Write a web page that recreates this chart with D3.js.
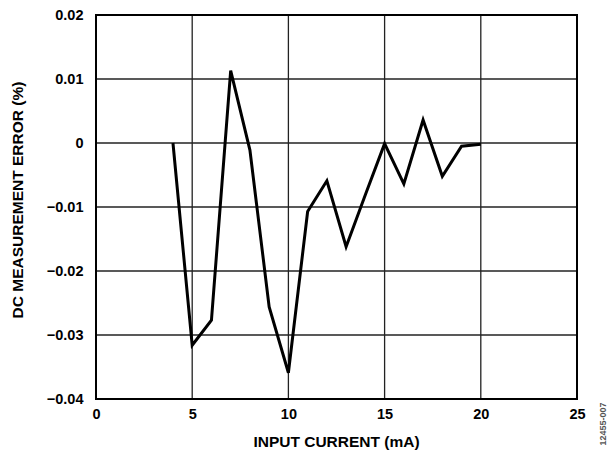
<!DOCTYPE html>
<html lang="en">
<head>
    <meta charset="UTF-8">
    <title>DC Measurement Error</title>
    <script src="https://d3js.org/d3.v7.min.js"></script>
    <style>
        body { margin: 0; background: #fff; }
        text { font-family: "Liberation Sans", Arial, sans-serif; font-weight: bold; }
    </style>
</head>
<body>
    <svg id="chart"></svg>

    <script>
        // input current (mA)
        const currents = [4, 5, 6, 7, 8, 9, 10, 11, 12, 13, 14, 15, 16, 17, 18, 19, 20];
        // DC measurement error (%)
        const errors = [0.0, -0.0316, -0.0277, 0.0113, -0.0011, -0.0256, -0.0359, -0.0107, -0.0059,
                        -0.0162, -0.0081, -0.0001, -0.0064, 0.0036, -0.0052, -0.0005, -0.0002];
        const xTicks = [0, 5, 10, 15, 20, 25];
        const yTicks = [-0.04, -0.03, -0.02, -0.01, 0, 0.01, 0.02];

        const width = 610, height = 451;
        const margin = { top: 15, right: 33, bottom: 52, left: 96 };
        const chartWidth = width - margin.left - margin.right;
        const chartHeight = height - margin.top - margin.bottom;

        const svg = d3.select("#chart")
            .attr("width", width)
            .attr("height", height);

        const xScale = d3.scaleLinear().domain([0, 25]).range([0, chartWidth]);
        const yScale = d3.scaleLinear().domain([-0.04, 0.02]).range([chartHeight, 0]);

        const g = svg.append("g")
            .attr("transform", `translate(${margin.left},${margin.top})`);

        // grid
        g.selectAll(".vgrid")
            .data(xTicks.slice(1, -1))
            .enter().append("line")
            .attr("x1", d => xScale(d)).attr("x2", d => xScale(d))
            .attr("y1", 0).attr("y2", chartHeight)
            .attr("stroke", "#222").attr("stroke-width", 1.3);

        g.selectAll(".hgrid")
            .data(yTicks.slice(1, -1))
            .enter().append("line")
            .attr("x1", 0).attr("x2", chartWidth)
            .attr("y1", d => yScale(d)).attr("y2", d => yScale(d))
            .attr("stroke", "#222").attr("stroke-width", 1.3);

        // frame
        g.append("rect")
            .attr("width", chartWidth).attr("height", chartHeight)
            .attr("fill", "none").attr("stroke", "#000").attr("stroke-width", 2);

        // tick labels via d3 axes
        const fmtY = d => d === 0 ? "0" : d3.format(".2f")(d).replace("-", "\u2013");
        const yAxis = g.append("g")
            .call(d3.axisLeft(yScale).tickValues(yTicks).tickSize(0).tickPadding(12.5).tickFormat(fmtY));
        const xAxis = g.append("g")
            .attr("transform", `translate(0,${chartHeight})`)
            .call(d3.axisBottom(xScale).tickValues(xTicks).tickSize(0).tickPadding(10).tickFormat(d3.format("d")));
        [xAxis, yAxis].forEach(a => {
            a.select(".domain").remove();
            a.selectAll("text")
                .attr("font-size", "14.5px")
                .attr("font-family", "Liberation Sans, Arial, sans-serif")
                .attr("font-weight", "bold")
                .attr("fill", "#000");
        });

        // data line
        const line = d3.line()
            .x((d, i) => xScale(currents[i]))
            .y(d => yScale(d));
        g.append("path")
            .datum(errors)
            .attr("fill", "none")
            .attr("stroke", "#000")
            .attr("stroke-width", 3)
            .attr("stroke-linejoin", "miter")
            .attr("d", line);

        // titles
        svg.append("text")
            .attr("x", margin.left + chartWidth / 2)
            .attr("y", 447)
            .attr("text-anchor", "middle")
            .attr("font-size", "15.5px")
            .text("INPUT CURRENT (mA)");

        svg.append("text")
            .attr("transform", "translate(23,200) rotate(-90)")
            .attr("text-anchor", "middle")
            .attr("font-size", "15.5px")
            .text("DC MEASUREMENT ERROR (%)");

        svg.append("text")
            .attr("transform", "translate(606,424) rotate(-90)")
            .attr("text-anchor", "middle")
            .attr("font-size", "9px")
            .attr("font-weight", "normal")
            .attr("fill", "#555")
            .text("12455-007");
    </script>
</body>
</html>
